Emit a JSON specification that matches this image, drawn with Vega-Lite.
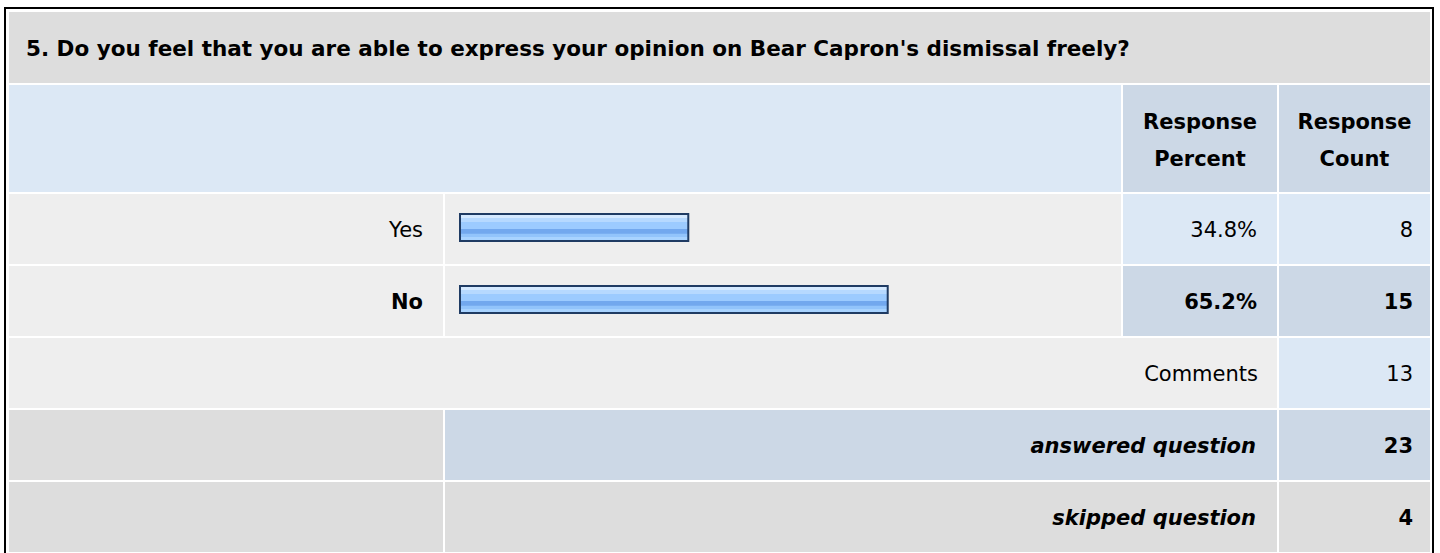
{
  "$schema": "https://vega.github.io/schema/vega-lite/v6.json",
  "padding": {"left": 4, "top": 7, "right": 0, "bottom": 0},
  "background": "#ffffff",
  "config": {
    "view": {"stroke": null},
    "text": {"font": "DejaVu Sans", "fontSize": 21, "color": "#000000", "baseline": "middle", "dy": 2}
  },
  "datasets": {
    "question": [{"question": "5. Do you feel that you are able to express your opinion on Bear Capron's dismissal freely?"}],
    "header": [{"column": "Response Percent"}, {"column": "Response Count"}],
    "answers": [
      {"answer": "Yes", "percent": 0.348, "count": 8},
      {"answer": "No", "percent": 0.652, "count": 15}
    ],
    "summary": [
      {"item": "Comments", "count": 13},
      {"item": "answered question", "count": 23},
      {"item": "skipped question", "count": 4}
    ]
  },
  "spacing": 0,
  "hconcat": [
    {"width": 2, "height": 546, "view": {"fill": "#000000"}, "data": {"values": [{}]}, "mark": {"type": "text", "text": "", "fontSize": 0, "dy": 0}, "encoding": {}},
    {
      "spacing": 3,
      "vconcat": [
        {"width": 1426, "height": 2, "view": {"fill": "#000000"}, "data": {"values": [{}]}, "mark": {"type": "text", "text": "", "fontSize": 0, "dy": 0}, "encoding": {}},
        {
          "spacing": 0,
          "hconcat": [
            {"width": 3, "height": 540, "data": {"values": [{}]}, "mark": {"type": "text", "text": "", "fontSize": 0, "dy": 0}, "encoding": {}},
            {
              "spacing": 2,
              "vconcat": [
                {
                  "width": 1421, "height": 71, "view": {"fill": "#dddddd"},
                  "data": {"name": "question"},
                  "mark": {"type": "text", "align": "left", "fontWeight": "bold", "fontSize": 21.5, "dx": 17, "dy": 2.5},
                  "encoding": {"x": {"value": 0}, "text": {"field": "question"}}
                },
                {
                  "spacing": 2,
                  "hconcat": [
                    {"width": 1112, "height": 107, "view": {"fill": "#dce8f5"}, "data": {"values": [{}]}, "mark": {"type": "text", "text": "", "fontSize": 0, "dy": 0}, "encoding": {}},
                    {
                      "width": 154, "height": 107, "view": {"fill": "#ccd8e6"},
                      "data": {"name": "header"},
                      "transform": [{"filter": "datum.column === 'Response Percent'"}],
                      "mark": {"type": "text", "align": "center", "fontWeight": "bold", "lineBreak": " ", "lineHeight": 37, "dy": -15.5},
                      "encoding": {"text": {"field": "column"}}
                    },
                    {
                      "width": 151, "height": 107, "view": {"fill": "#ccd8e6"},
                      "data": {"name": "header"},
                      "transform": [{"filter": "datum.column === 'Response Count'"}],
                      "mark": {"type": "text", "align": "center", "fontWeight": "bold", "lineBreak": " ", "lineHeight": 37, "dy": -15.5},
                      "encoding": {"text": {"field": "column"}}
                    }
                  ]
                },
                {
                  "spacing": 2,
                  "hconcat": [
                    {
                      "width": 434, "height": 70, "view": {"fill": "#eeeeee"},
                      "data": {"name": "answers"},
                      "transform": [{"filter": "datum.answer === 'Yes'"}],
                      "mark": {"type": "text", "align": "right", "dx": -20},
                      "encoding": {"x": {"value": "width"}, "text": {"field": "answer"}}
                    },
                    {
                      "width": 676, "height": 70, "view": {"fill": "#eeeeee"},
                      "data": {"name": "answers"},
                      "transform": [{"filter": "datum.answer === 'Yes'"}],
                      "mark": {
                        "type": "bar", "orient": "horizontal", "stroke": "#1f3b63", "strokeWidth": 2,
                        "fill": {"gradient": "linear", "x1": 0, "y1": 0, "x2": 0, "y2": 1, "stops": [
                          {"offset": 0, "color": "#d4e9ff"}, {"offset": 0.15, "color": "#d4e9ff"},
                          {"offset": 0.16, "color": "#b6d9ff"}, {"offset": 0.3, "color": "#b6d9ff"},
                          {"offset": 0.31, "color": "#9ccbff"}, {"offset": 0.55, "color": "#9ccbff"},
                          {"offset": 0.56, "color": "#72a8ee"}, {"offset": 0.72, "color": "#72a8ee"},
                          {"offset": 0.73, "color": "#92c4fb"}, {"offset": 0.85, "color": "#92c4fb"},
                          {"offset": 0.86, "color": "#a8d3ff"}, {"offset": 1, "color": "#a8d3ff"}
                        ]}
                      },
                      "encoding": {
                        "x": {"field": "percent", "type": "quantitative", "scale": {"domain": [0, 1], "range": [15, 671]}, "axis": null},
                        "y": {"field": "answer", "type": "nominal", "scale": {"paddingInner": 0, "paddingOuter": 0.7963, "align": 0.465}, "axis": null}
                      }
                    },
                    {
                      "width": 154, "height": 70, "view": {"fill": "#dce8f5"},
                      "data": {"name": "answers"},
                      "transform": [{"filter": "datum.answer === 'Yes'"}],
                      "mark": {"type": "text", "align": "right", "dx": -20},
                      "encoding": {"x": {"value": "width"}, "text": {"field": "percent", "type": "quantitative", "format": ".1%"}}
                    },
                    {
                      "width": 151, "height": 70, "view": {"fill": "#dce8f5"},
                      "data": {"name": "answers"},
                      "transform": [{"filter": "datum.answer === 'Yes'"}],
                      "mark": {"type": "text", "align": "right", "dx": -17},
                      "encoding": {"x": {"value": "width"}, "text": {"field": "count", "type": "quantitative"}}
                    }
                  ]
                },
                {
                  "spacing": 2,
                  "hconcat": [
                    {
                      "width": 434, "height": 70, "view": {"fill": "#eeeeee"},
                      "data": {"name": "answers"},
                      "transform": [{"filter": "datum.answer === 'No'"}],
                      "mark": {"type": "text", "align": "right", "fontWeight": "bold", "dx": -20},
                      "encoding": {"x": {"value": "width"}, "text": {"field": "answer"}}
                    },
                    {
                      "width": 676, "height": 70, "view": {"fill": "#eeeeee"},
                      "data": {"name": "answers"},
                      "transform": [{"filter": "datum.answer === 'No'"}],
                      "mark": {
                        "type": "bar", "orient": "horizontal", "stroke": "#1f3b63", "strokeWidth": 2,
                        "fill": {"gradient": "linear", "x1": 0, "y1": 0, "x2": 0, "y2": 1, "stops": [
                          {"offset": 0, "color": "#d4e9ff"}, {"offset": 0.15, "color": "#d4e9ff"},
                          {"offset": 0.16, "color": "#b6d9ff"}, {"offset": 0.3, "color": "#b6d9ff"},
                          {"offset": 0.31, "color": "#9ccbff"}, {"offset": 0.55, "color": "#9ccbff"},
                          {"offset": 0.56, "color": "#72a8ee"}, {"offset": 0.72, "color": "#72a8ee"},
                          {"offset": 0.73, "color": "#92c4fb"}, {"offset": 0.85, "color": "#92c4fb"},
                          {"offset": 0.86, "color": "#a8d3ff"}, {"offset": 1, "color": "#a8d3ff"}
                        ]}
                      },
                      "encoding": {
                        "x": {"field": "percent", "type": "quantitative", "scale": {"domain": [0, 1], "range": [15, 671]}, "axis": null},
                        "y": {"field": "answer", "type": "nominal", "scale": {"paddingInner": 0, "paddingOuter": 0.7963, "align": 0.465}, "axis": null}
                      }
                    },
                    {
                      "width": 154, "height": 70, "view": {"fill": "#ccd8e6"},
                      "data": {"name": "answers"},
                      "transform": [{"filter": "datum.answer === 'No'"}],
                      "mark": {"type": "text", "align": "right", "fontWeight": "bold", "dx": -20},
                      "encoding": {"x": {"value": "width"}, "text": {"field": "percent", "type": "quantitative", "format": ".1%"}}
                    },
                    {
                      "width": 151, "height": 70, "view": {"fill": "#ccd8e6"},
                      "data": {"name": "answers"},
                      "transform": [{"filter": "datum.answer === 'No'"}],
                      "mark": {"type": "text", "align": "right", "fontWeight": "bold", "dx": -17},
                      "encoding": {"x": {"value": "width"}, "text": {"field": "count", "type": "quantitative"}}
                    }
                  ]
                },
                {
                  "spacing": 2,
                  "hconcat": [
                    {
                      "width": 1268, "height": 70, "view": {"fill": "#eeeeee"},
                      "data": {"name": "summary"},
                      "transform": [{"filter": "datum.item === 'Comments'"}],
                      "mark": {"type": "text", "align": "right", "dx": -19},
                      "encoding": {"x": {"value": "width"}, "text": {"field": "item"}}
                    },
                    {
                      "width": 151, "height": 70, "view": {"fill": "#dce8f5"},
                      "data": {"name": "summary"},
                      "transform": [{"filter": "datum.item === 'Comments'"}],
                      "mark": {"type": "text", "align": "right", "dx": -17},
                      "encoding": {"x": {"value": "width"}, "text": {"field": "count", "type": "quantitative"}}
                    }
                  ]
                },
                {
                  "spacing": 2,
                  "hconcat": [
                    {"width": 434, "height": 70, "view": {"fill": "#dddddd"}, "data": {"values": [{}]}, "mark": {"type": "text", "text": "", "fontSize": 0, "dy": 0}, "encoding": {}},
                    {
                      "width": 832, "height": 70, "view": {"fill": "#ccd8e6"},
                      "data": {"name": "summary"},
                      "transform": [{"filter": "datum.item === 'answered question'"}],
                      "mark": {"type": "text", "align": "right", "fontWeight": "bold", "fontStyle": "italic", "dx": -21},
                      "encoding": {"x": {"value": "width"}, "text": {"field": "item"}}
                    },
                    {
                      "width": 151, "height": 70, "view": {"fill": "#ccd8e6"},
                      "data": {"name": "summary"},
                      "transform": [{"filter": "datum.item === 'answered question'"}],
                      "mark": {"type": "text", "align": "right", "fontWeight": "bold", "dx": -17},
                      "encoding": {"x": {"value": "width"}, "text": {"field": "count", "type": "quantitative"}}
                    }
                  ]
                },
                {
                  "spacing": 2,
                  "hconcat": [
                    {"width": 434, "height": 70, "view": {"fill": "#dddddd"}, "data": {"values": [{}]}, "mark": {"type": "text", "text": "", "fontSize": 0, "dy": 0}, "encoding": {}},
                    {
                      "width": 832, "height": 70, "view": {"fill": "#dddddd"},
                      "data": {"name": "summary"},
                      "transform": [{"filter": "datum.item === 'skipped question'"}],
                      "mark": {"type": "text", "align": "right", "fontWeight": "bold", "fontStyle": "italic", "dx": -21},
                      "encoding": {"x": {"value": "width"}, "text": {"field": "item"}}
                    },
                    {
                      "width": 151, "height": 70, "view": {"fill": "#dddddd"},
                      "data": {"name": "summary"},
                      "transform": [{"filter": "datum.item === 'skipped question'"}],
                      "mark": {"type": "text", "align": "right", "fontWeight": "bold", "dx": -17},
                      "encoding": {"x": {"value": "width"}, "text": {"field": "count", "type": "quantitative"}}
                    }
                  ]
                }
              ]
            }
          ]
        }
      ]
    },
    {"width": 2, "height": 546, "view": {"fill": "#000000"}, "data": {"values": [{}]}, "mark": {"type": "text", "text": "", "fontSize": 0, "dy": 0}, "encoding": {}}
  ]
}
